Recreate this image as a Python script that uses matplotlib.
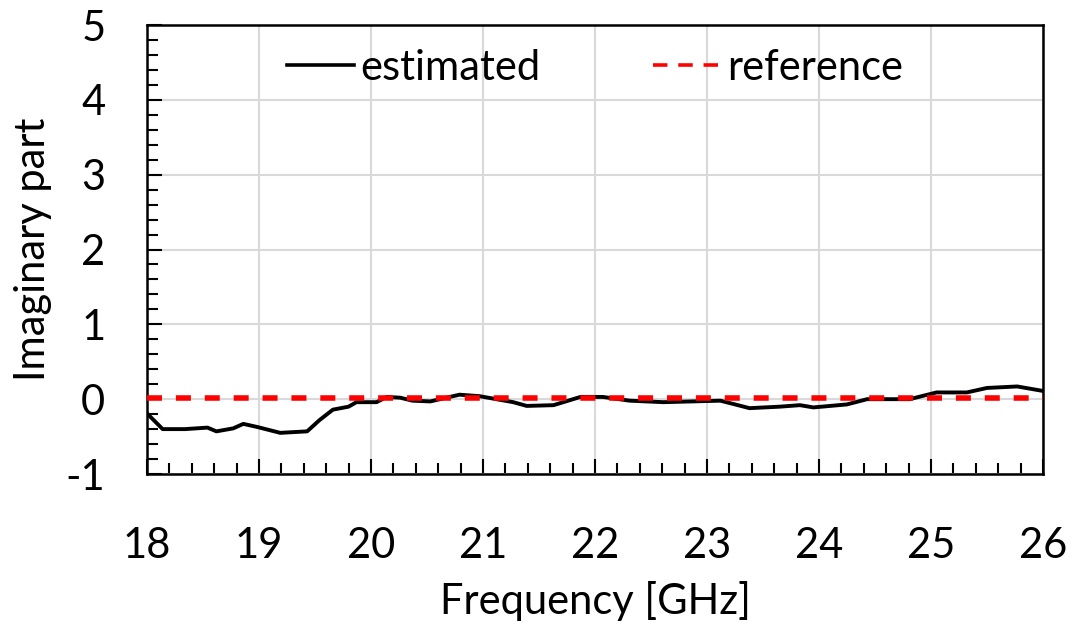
import numpy as np
import matplotlib
matplotlib.use("Agg")
import matplotlib.pyplot as plt
from matplotlib.lines import Line2D
from matplotlib.ticker import MultipleLocator

plt.rcParams["font.family"] = ["Lato", "DejaVu Sans"]
plt.rcParams["axes.unicode_minus"] = False

# estimated imaginary part
freq = [18.0, 18.14, 18.34, 18.54, 18.62, 18.77, 18.86, 18.98, 19.19, 19.43,
        19.54, 19.66, 19.80, 19.87, 20.05, 20.14, 20.26, 20.37, 20.53, 20.79,
        20.97, 21.27, 21.39, 21.63, 21.87, 22.07, 22.31, 22.61, 23.12, 23.38,
        23.65, 23.83, 23.95, 24.25, 24.43, 24.81, 25.05, 25.32, 25.50, 25.77, 26.0]
est = [-0.19, -0.40, -0.40, -0.38, -0.43, -0.39, -0.33, -0.37, -0.45, -0.43,
       -0.28, -0.14, -0.10, -0.04, -0.04, 0.03, 0.02, -0.02, -0.03, 0.06,
       0.04, -0.04, -0.09, -0.08, 0.03, 0.03, -0.02, -0.04, -0.02, -0.12,
       -0.10, -0.08, -0.11, -0.07, 0.00, 0.00, 0.09, 0.09, 0.15, 0.17, 0.11]
ref_freq = [18.0, 26.0]
ref_val = [0.02, 0.02]

fig = plt.figure(figsize=(10.76, 6.3), dpi=100)
ax = fig.add_axes([0.1366, 0.2476, 0.8327, 0.7127])

ax.plot(freq, est, color="black", lw=2.8, zorder=3)
ax.plot(ref_freq, ref_val, color="red", lw=4, dashes=(2.7, 2.5), zorder=4)

ax.set_xlim(18, 26)
ax.set_ylim(-1, 5)
ax.xaxis.set_major_locator(MultipleLocator(1))
ax.xaxis.set_minor_locator(MultipleLocator(0.2))
ax.yaxis.set_major_locator(MultipleLocator(1))
ax.yaxis.set_minor_locator(MultipleLocator(0.2))
ax.grid(True, which="major", color="#d9d9d9", lw=1.5)
ax.set_axisbelow(True)
for s in ax.spines.values():
    s.set_linewidth(1.8)
ax.tick_params(which="both", direction="in", width=1.5, labelsize=30)
ax.tick_params(which="major", length=11)
ax.tick_params(which="minor", length=8)
ax.tick_params(axis="x", pad=38)
ax.tick_params(axis="y", pad=30)

ax.set_xlabel("Frequency [GHz]", fontsize=30, labelpad=12)
ax.set_ylabel("Imaginary part", fontsize=30, labelpad=10)

handles = [Line2D([], [], color="black", lw=2.6),
           Line2D([], [], color="red", lw=2.6, dashes=(4, 3))]
ax.legend(handles, ["estimated", "reference"], loc="upper center", ncol=2,
          frameon=False, fontsize=30, handlelength=1.6, handletextpad=0.17,
          columnspacing=2.7, bbox_to_anchor=(0.5, 1.03))

fig.savefig("out.png", dpi=100)
